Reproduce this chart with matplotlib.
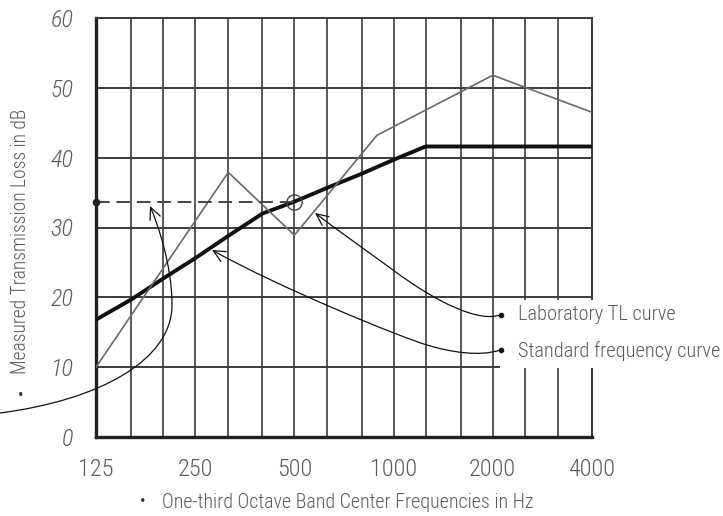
import matplotlib
matplotlib.use('Agg')
import matplotlib.pyplot as plt
import matplotlib.font_manager as fm
from matplotlib.patches import FancyArrowPatch, Rectangle, ArrowStyle
from matplotlib.path import Path
from matplotlib.ticker import NullFormatter


def available(name):
    try:
        fm.findfont(fm.FontProperties(family=name), fallback_to_default=False)
        return True
    except Exception:
        return False


candidates = ['Roboto Condensed', 'Liberation Sans Narrow', 'Open Sans Condensed', 'Roboto', 'Liberation Sans']
main_font = next((f for f in candidates if available(f)), 'DejaVu Sans')
plt.rcParams['font.family'] = [main_font, 'DejaVu Sans']

# ---------------- data ----------------
band_freqs = [125, 160, 200, 250, 315, 400, 500, 630, 800, 1000, 1250, 1600, 2000, 2500, 3150, 4000]
tick_freqs = [125, 250, 500, 1000, 2000, 4000]
tick_labels = ['125', '250', '500', '1000', '2000', '4000']
y_ticks = [0, 10, 20, 30, 40, 50, 60]
y_tick_labels = ['0', '10', '20', '30', '40', '50', '60']

standard_tl = [16.8, 19.7, 22.7, 25.6, 28.8, 32.0, 33.7, 35.7, 37.7, 39.7, 41.6, 41.6, 41.6, 41.6, 41.6, 41.6]

lab_freqs = [125, 315, 500, 890, 2000, 4000]
lab_tl = [10.0, 37.9, 28.9, 43.2, 51.8, 46.5]

rating_freq = 500
rating_value = 33.7

x_label = 'One-third Octave Band Center Frequencies in Hz'
y_label = 'Measured Transmission Loss in dB'
lab_label = 'Laboratory TL curve'
std_label = 'Standard frequency curve'

# ---------------- figure ----------------
W, H = 723, 516
fig = plt.figure(figsize=(W / 100, H / 100), dpi=100)
ax = fig.add_axes([96 / W, 1 - 437 / H, 496 / W, 419 / H])
ax.set_xscale('log', base=2)
ax.set_xlim(band_freqs[0], band_freqs[-1])
ax.set_ylim(y_ticks[0], y_ticks[-1])
ax.set_xticks(tick_freqs)
ax.set_xticklabels(tick_labels)
ax.set_xticks(band_freqs, minor=True)
ax.xaxis.set_minor_formatter(NullFormatter())
ax.set_yticks(y_ticks)
ax.set_yticklabels(y_tick_labels, fontstyle='italic')

text_col = '#5c5c5c'
grid_col = '#3c3c3c'
ax.tick_params(which='both', length=0)
ax.tick_params(axis='x', labelsize=17.5, labelcolor=text_col, pad=15)
ax.tick_params(axis='y', labelsize=17.5, labelcolor=text_col, pad=16)
for t in ax.get_xticklabels() + ax.get_yticklabels():
    t.set_fontweight('light')

ax.grid(True, which='both', axis='x', color=grid_col, lw=1.2)
ax.grid(True, which='major', axis='y', color=grid_col, lw=1.4)
for s in ['left', 'bottom']:
    ax.spines[s].set_linewidth(2.4)
    ax.spines[s].set_color('#222222')
for s in ['top', 'right']:
    ax.spines[s].set_linewidth(1.4)
    ax.spines[s].set_color(grid_col)

# curves
ax.plot(band_freqs, standard_tl, color='#111111', lw=2.8, zorder=3, solid_capstyle='butt')
ax.plot(lab_freqs, lab_tl, color='#6a6a6a', lw=1.2, zorder=3)
ax.plot([band_freqs[0], rating_freq], [rating_value, rating_value], color='#444444',
        lw=1.4, dashes=(7, 3.5), zorder=3)
ax.plot([band_freqs[0]], [rating_value], 'o', color='#222222', ms=4.5, zorder=4, clip_on=False)
ax.plot([rating_freq], [rating_value], 'o', mfc='none', mec='#444444', mew=1.0, ms=11, zorder=4)

# axis labels
ax.set_xlabel(x_label, fontsize=14.5, color=text_col, fontweight='light')
ax.xaxis.label.set_va('center')
ax.xaxis.set_label_coords((348 - 96) / 496, (437 - 502) / 419)
ax.set_ylabel(y_label, fontsize=14.5, color=text_col, fontweight='light')
ax.yaxis.label.set_va('center')
ax.yaxis.set_label_coords((21 - 96) / 496, (437 - 241) / 419)

# bullets before the axis labels
fig.text(143 / W, 1 - 501 / H, '•', fontsize=12, color='#333333', ha='center', va='center')
fig.text(21 / W, 1 - 396 / H, '•', fontsize=12, color='#333333', ha='center', va='center')

# white area behind the curve names
rect = Rectangle((500 / W, 1 - 368 / H), 100 / W, 68 / H, transform=fig.transFigure,
                 facecolor='white', edgecolor='none', zorder=2.7, clip_on=False)
ax.add_patch(rect)

t_lab = fig.text(518 / W, 1 - 315 / H, lab_label, fontsize=14.5, color=text_col, va='center',
                 ha='left', zorder=5, fontweight='light')
t_std = fig.text(518 / W, 1 - 351 / H, std_label, fontsize=14.5, color=text_col, va='center',
                 ha='left', zorder=5, fontweight='light')

# fit text sizes to the reference widths
renderer = fig.canvas.get_renderer()


def fit(texts, target_px, horizontal=True):
    ref = texts[0]
    ext = ref.get_window_extent(renderer)
    size = ref.get_fontsize()
    cur = ext.width if horizontal else ext.height
    new = min(size * target_px / cur, 18)
    for t in texts:
        t.set_fontsize(new)


fit([ax.xaxis.label], 373)
fit([ax.yaxis.label], 267, horizontal=False)
fit([t_std, t_lab], 202)


def px(x, y):
    return (x / W, 1 - y / H)


def bezier_arrow(points):
    verts = [px(*p) for p in points]
    codes = [Path.MOVETO] + [Path.CURVE4] * (len(verts) - 1)
    arr = FancyArrowPatch(path=Path(verts, codes),
                          arrowstyle=ArrowStyle('->', head_length=0.85, head_width=0.4),
                          mutation_scale=10, lw=0.9, color='#111111',
                          transform=fig.transFigure, zorder=6)
    fig.add_artist(arr)


# left arrow (to rating level)
bezier_arrow([(0, 413), (100, 400), (172, 360), (172, 305),
              (172, 265), (158, 225), (150, 206)])
# laboratory curve arrow
bezier_arrow([(500, 315), (480, 322), (440, 305), (393, 270),
              (360, 246), (340, 232), (315, 213)])
# standard curve arrow
bezier_arrow([(500, 350), (480, 357), (450, 352), (427, 345),
              (400, 337), (280, 288), (212, 250)])

# dots at start of the arrows
for (x, y) in [(501, 315), (501, 350)]:
    fig.add_artist(plt.Line2D([x / W], [1 - y / H], marker='o', ms=3, color='#111111',
                              transform=fig.transFigure, zorder=7))

fig.savefig('out.png', dpi=100)
